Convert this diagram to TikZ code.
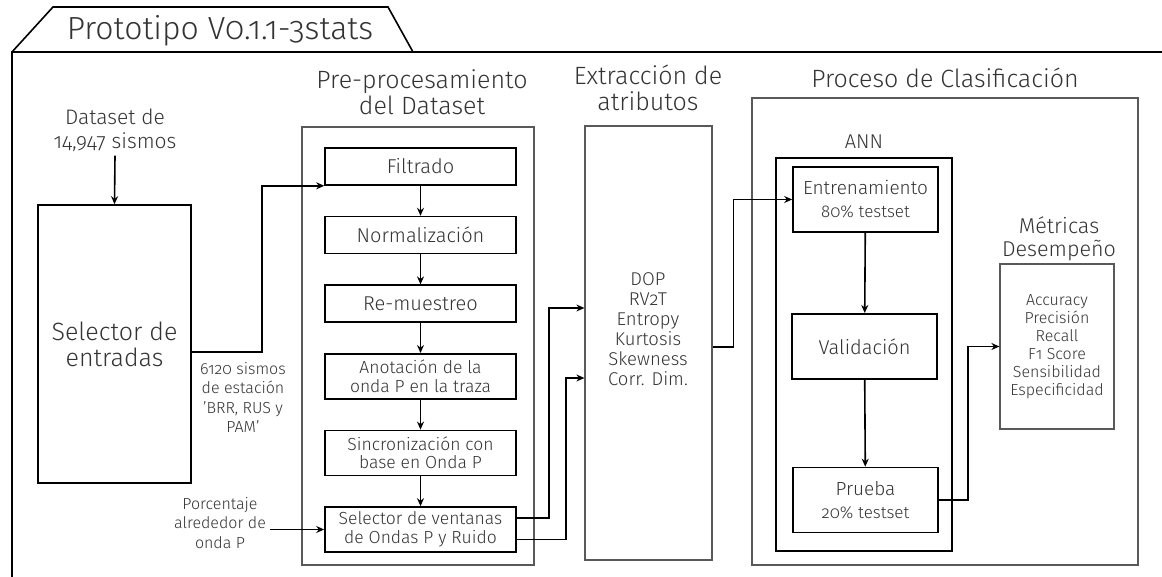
\documentclass[tikz,border=0pt]{standalone}
\usepackage{fontspec}
\setmainfont{Fira Sans Light}[Numbers=OldStyle]
\usetikzlibrary{arrows.meta, positioning}

\begin{document}
\begin{tikzpicture}[x=1pt, y=-1pt, line width=1.6pt, node distance=30pt,
    every node/.style={text=black!80},
    box/.style={draw, align=center, inner sep=2pt},
    frame/.style={draw=black!65, line width=1.2pt},
    stepbox/.style={box, minimum width=191pt, minimum height=37pt, font=\fontsize{20}{22}\selectfont},
    twobox/.style={stepbox, minimum height=45pt, font=\fontsize{17.5}{18.5}\selectfont},
    annbox/.style={box, minimum width=145pt, minimum height=65pt, font=\fontsize{19}{23}\selectfont},
    head/.style={align=center, font=\fontsize{25}{26}\selectfont},
    note/.style={align=center, font=\fontsize{16}{19.5}\selectfont},
    arr/.style={-{Stealth[length=8pt, width=7pt]}}]
    \useasboundingbox (0,0) rectangle (1162,577);

    \draw (12,52) -- (53,7) -- (388,7) -- (413,52);
    \draw (12,577) -- (12,52) -- (1162,52);
    \node[font=\fontsize{32}{34}\selectfont] (title) at (220,31) {Prototipo V0.1.1-3stats};

    \node[note, font=\fontsize{21}{24}\selectfont] (dset) at (115,130) {Dataset de\\14,947 sismos};
    \node[box, minimum width=153pt, minimum height=278pt, font=\fontsize{25}{26}\selectfont] (sel) at (114.5,344) {Selector de\\entradas};
    \node[note] (sellab) at (243,397.5) {6120 sismos\\de estación\\'BRR, RUS y\\PAM'};
    \node[note] (pct) at (220,523) {Porcentaje\\alrededor de\\onda P};

    \node[frame, minimum width=232pt, minimum height=438pt] (pre) at (418,346) {};
    \node[head] (prehead) at (422,92) {Pre-procesamiento\\del Dataset};
    \node[stepbox] (filt) at (420.5,166.5) {Filtrado};
    \node[stepbox, below=of filt] (norm) {Normalización};
    \node[stepbox, below=of norm] (remu) {Re-muestreo};
    \node[twobox, below=of remu] (anot) {Anotación de la\\onda P en la traza};
    \node[twobox, below=of anot] (sinc) {Sincronización con\\base en Onda P};
    \node[twobox, below=of sinc] (vent) {Selector de ventanas\\de Ondas P y Ruido};

    \node[frame, minimum width=127pt, minimum height=434pt] (ext) at (648.5,343) {};
    \node[head] (exthead) at (648,88) {Extracción de\\atributos};
    \node[align=center, font=\fontsize{18.5}{20}\selectfont] (attr) at (648,329) {DOP\\RV2T\\Entropy\\Kurtosis\\Skewness\\Corr. Dim.};

    \node[frame, minimum width=386pt, minimum height=467pt] (clas) at (945,331.5) {};
    \node[head] (clashead) at (945,78) {Proceso de Clasificación};
    \node[draw, line width=2pt, minimum width=176pt, minimum height=393pt] (ann) at (864,354.5) {};
    \node[font=\fontsize{20}{22}\selectfont] (annlab) at (864,142) {ANN};
    \node[annbox] (ent) at (865.5,199.5) {Entrenamiento\\{\fontsize{17}{18}\selectfont 80\% testset}};
    \node[annbox, line width=2pt, font=\fontsize{20}{23}\selectfont] (val) at (864.5,346.5) {Validación};
    \node[annbox] (prb) at (865.5,500) {Prueba\\{\fontsize{17}{18}\selectfont 20\% testset}};
    \node[frame, note, minimum width=114pt, minimum height=165pt, font=\fontsize{16}{18}\selectfont] (met) at (1057,346.5) {Accuracy\\Precisión\\Recall\\F1 Score\\Sensibilidad\\Especificidad};
    \node[head, font=\fontsize{21.5}{23}\selectfont] (methead) at (1059,238.5) {Métricas\\Desempeño};

    \draw[arr] (dset.south) -- (sel.north);
    \draw[arr] ([yshift=-8pt]sel.east) -- ++(70,0) |- (filt.south west);
    \draw[arr] (pct.east |- vent.west) -- (vent.west);
    \foreach \a/\b in {filt/norm, norm/remu, remu/anot, anot/sinc, sinc/vent}
        \draw[arr] (\a) -- (\b);
    \draw[arr, line width=2pt] ([yshift=12pt]vent.east) -- ++(32,0) |- ([yshift=35pt]ext.west);
    \draw[arr] ([yshift=-10pt]vent.east) -- ++(49,0) |- ([yshift=-35pt]ext.west);
    \draw[arr] ([yshift=-4pt]ext.east) -- ++(21,0) |- (ent.west);
    \draw[arr] (ent) -- (val);
    \draw[arr] (val) -- (prb);
    \draw[arr] (prb.east) -- ++(29,0) |- (met.west);
\end{tikzpicture}
\end{document}
